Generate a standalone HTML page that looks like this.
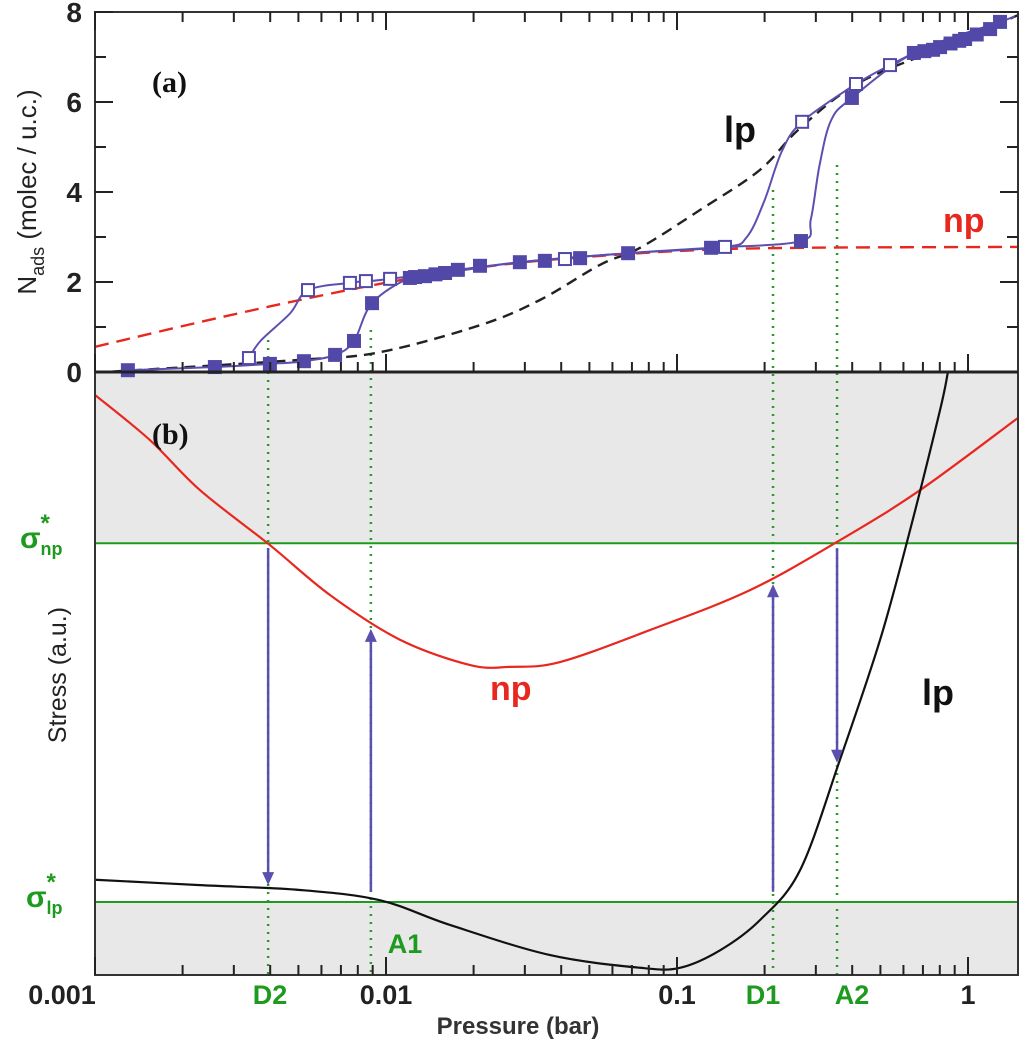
<!DOCTYPE html>
<html><head><meta charset="utf-8"><style>
html,body{margin:0;padding:0;background:#fff;}
svg{display:block;font-family:"Liberation Sans",sans-serif;}
</style></head><body>
<svg id="chart" width="1024" height="1040" viewBox="0 0 1024 1040" xmlns="http://www.w3.org/2000/svg"></svg>
<script>
// ---- data ----
const adsLogP = [-2.887,-2.588,-2.399,-2.282,-2.175,-2.110,-2.048,-1.918,-1.900,-1.866,-1.830,-1.797,-1.753,-1.677,-1.540,-1.454,-1.333,-1.168,-0.883,-0.574,-0.399,-0.186,-0.150,-0.120,-0.096,-0.060,-0.030,-0.010,0.030,0.076,0.110];
const adsN    = [0.04,0.11,0.18,0.24,0.38,0.69,1.53,2.09,2.11,2.13,2.17,2.20,2.27,2.36,2.44,2.47,2.53,2.64,2.76,2.91,6.09,7.09,7.13,7.16,7.22,7.30,7.36,7.40,7.50,7.62,7.78];
const desLogP = [-2.471,-2.268,-2.124,-2.069,-1.986,-1.385,-0.835,-0.570,-0.385,-0.268];
const desN    = [0.31,1.82,1.98,2.02,2.07,2.51,2.78,5.56,6.40,6.82];
// line-only path through the hysteresis branches
const adsLineLogP = [-2.887,-2.588,-2.399,-2.282,-2.175,-2.110,-2.048,-1.918,-1.797,-1.540,-1.168,-0.883,-0.574,-0.540,-0.510,-0.470,-0.399,-0.186,0.110,0.160];
const adsLineN    = [0.04,0.11,0.18,0.24,0.38,0.69,1.53,2.09,2.20,2.44,2.64,2.76,2.91,3.40,4.60,5.60,6.09,7.09,7.78,7.90];
const desLineLogP = [-0.186,-0.268,-0.385,-0.570,-0.640,-0.700,-0.760,-0.835,-1.168,-1.540,-1.986,-2.069,-2.124,-2.268,-2.330,-2.430,-2.471];
const desLineN    = [7.09,6.82,6.40,5.56,4.90,3.80,3.00,2.78,2.64,2.44,2.07,2.02,1.98,1.82,1.30,0.70,0.31];
const lpIsoLogP = [-3,-2.914,-2.296,-2.021,-1.677,-1.471,-1.265,-1.127,-0.921,-0.715,-0.577,-0.371,-0.062,0.172];
const lpIsoN    = [0,0.02,0.27,0.44,1.04,1.60,2.38,2.76,3.60,4.49,5.42,6.44,7.27,7.93];
const npIsoLogP = [-3,-2.639,-2.296,-1.952,-1.608,-1.265,-0.921,-0.577,0.172];
const npIsoN    = [0.56,1.11,1.60,2.04,2.38,2.58,2.71,2.76,2.78];
const npStressLogP = [-3,-2.811,-2.639,-2.399,-2.192,-1.952,-1.711,-1.574,-1.402,-1.093,-0.750,-0.440,-0.165,0.172];
const npStress     = [96.2,88.7,80.4,71.3,63.0,55.6,51.4,51.1,51.9,57.2,63.8,72.1,80.4,92.4];
const lpStressLogP = [-3,-2.639,-2.296,-2.021,-1.780,-1.436,-1.127,-0.990,-0.852,-0.715,-0.577,-0.440,-0.302,-0.199,-0.096,-0.069];
const lpStress     = [15.8,14.9,14.1,12.4,8.3,3.3,1.2,1.2,4.1,9.1,17.4,35.7,55.6,73.8,93.7,100];
const sigmaNp = 71.6, sigmaLp = 12.1;
const transLogP = [-2.405, -2.052, -0.670, -0.450]; // D2, A1, D1, A2
const transNames = ["D2","A1","D1","A2"];
const arrowFrom = [70.8, 13.8, 13.8, 70.8];
const arrowTo   = [14.9, 57.4, 64.8, 35.2];
const xTickLabels = ["0.001","0.01","0.1","1"];
const yTickLabels = ["0","2","4","6","8"];

// ---- axes ----
const X0=95, DEC=291, TOPY0=372, TOPK=45, BOT0=975, BOTK=6.03, RIGHT=1018, TOP=12;
const xs = lp => X0 + (lp+3)*DEC;
const yTop = n => TOPY0 - n*TOPK;
const yBot = s => BOT0 - s*BOTK;

const svg=document.getElementById('chart');
const NS='http://www.w3.org/2000/svg';
function mk(tag,attrs,parent){const e=document.createElementNS(NS,tag);for(const k in attrs)e.setAttribute(k,attrs[k]);(parent||svg).appendChild(e);return e;}
function smooth(pts){ // catmull-rom
  let d=`M${pts[0][0]},${pts[0][1]}`;
  for(let i=0;i<pts.length-1;i++){const p0=pts[Math.max(0,i-1)],p1=pts[i],p2=pts[i+1],p3=pts[Math.min(pts.length-1,i+2)];
    d+=` C${p1[0]+(p2[0]-p0[0])/6},${p1[1]+(p2[1]-p0[1])/6} ${p2[0]-(p3[0]-p1[0])/6},${p2[1]-(p3[1]-p1[1])/6} ${p2[0]},${p2[1]}`;}
  return d;}

// clip
const defs=mk('defs',{});
const cp=mk('clipPath',{id:'cb'},defs); mk('rect',{x:X0,y:TOPY0,width:RIGHT-X0,height:BOT0-TOPY0},cp);
const ct=mk('clipPath',{id:'ct'},defs); mk('rect',{x:X0,y:TOP,width:RIGHT-X0,height:TOPY0-TOP},ct);

// bottom gray bands
let e;
e=mk('rect',{x:X0,y:TOPY0,width:RIGHT-X0,height:yBot(sigmaNp)-TOPY0,fill:'#e8e8e8'});


e=mk('rect',{x:X0,y:yBot(sigmaLp),width:RIGHT-X0,height:BOT0-yBot(sigmaLp),fill:'#e8e8e8'});



// transition dotted lines
const dotTop=[340,330,190,165];
transLogP.forEach((lp,i)=>{const l=mk('line',{x1:xs(lp),x2:xs(lp),y1:dotTop[i],y2:BOT0,stroke:'#2a9a2a','stroke-width':2.5,'stroke-dasharray':'2 6'});

});

// sigma lines
e=mk('line',{x1:X0,x2:RIGHT,y1:yBot(sigmaNp),y2:yBot(sigmaNp),stroke:'#1e9a1e','stroke-width':2});


e=mk('line',{x1:X0,x2:RIGHT,y1:yBot(sigmaLp),y2:yBot(sigmaLp),stroke:'#1e9a1e','stroke-width':2});



// stress curves
e=mk('path',{d:smooth(npStressLogP.map((p,i)=>[xs(p),yBot(npStress[i])])),fill:'none',stroke:'#e8281e','stroke-width':2.2,'clip-path':'url(#cb)'});


e=mk('path',{d:smooth(lpStressLogP.map((p,i)=>[xs(p),yBot(lpStress[i])])),fill:'none',stroke:'#111','stroke-width':2.2,'clip-path':'url(#cb)'});



// arrows
transLogP.forEach((lp,i)=>{const x=xs(lp),y1=yBot(arrowFrom[i]),y2=yBot(arrowTo[i]);const dir=y2>y1?1:-1;
 const g=mk('g',{});
 
 
 mk('line',{x1:x,x2:x,y1:y1,y2:y2-dir*10,stroke:'#5b4fb0','stroke-width':2.5},g);
 mk('polygon',{points:`${x-6},${y2-dir*13} ${x+6},${y2-dir*13} ${x},${y2}`,fill:'#5b4fb0'},g);});

// top isotherms
e=mk('path',{d:smooth(lpIsoLogP.map((p,i)=>[xs(p),yTop(lpIsoN[i])])),fill:'none',stroke:'#222','stroke-width':2.4,'stroke-dasharray':'11 7','clip-path':'url(#ct)'});


e=mk('path',{d:smooth(npIsoLogP.map((p,i)=>[xs(p),yTop(npIsoN[i])])),fill:'none',stroke:'#e8281e','stroke-width':2.4,'stroke-dasharray':'14 8','clip-path':'url(#ct)'});


e=mk('path',{d:smooth(adsLineLogP.map((p,i)=>[xs(p),yTop(adsLineN[i])])),fill:'none',stroke:'#5b4fb0','stroke-width':2,'clip-path':'url(#ct)'});


e=mk('path',{d:smooth(desLineLogP.map((p,i)=>[xs(p),yTop(desLineN[i])])),fill:'none',stroke:'#5b4fb0','stroke-width':2,'clip-path':'url(#ct)'});


adsLogP.forEach((p,i)=>{const r=mk('rect',{x:xs(p)-7,y:yTop(adsN[i])-7,width:14,height:14,fill:'#5248a8'});

});
desLogP.forEach((p,i)=>{const r=mk('rect',{x:xs(p)-6,y:yTop(desN[i])-6,width:12,height:12,fill:'#fff',stroke:'#5248a8','stroke-width':2});

});

// frames
e=mk('rect',{x:X0,y:TOP,width:RIGHT-X0,height:BOT0-TOP,fill:'none',stroke:'#333','stroke-width':2});


e=mk('line',{x1:X0,x2:RIGHT,y1:TOPY0,y2:TOPY0,stroke:'#222','stroke-width':3});



// x ticks
for(let d=-3;d<=0;d++){for(let m=1;m<=9;m++){const lp=d+Math.log10(m);const x=xs(lp);if(x>RIGHT)continue;const L=m===1?18:10;
 [[BOT0,-L],[TOPY0,-L],[TOP,L]].forEach(([y,dl])=>{mk('line',{x1:x,x2:x,y1:y,y2:y+dl,stroke:'#222','stroke-width':2});});}}
// y ticks top panel
for(let n=0;n<=8;n++){const y=yTop(n);const L=n%2===0?18:11;
 mk('line',{x1:X0,x2:X0+L,y1:y,y2:y,stroke:'#222','stroke-width':2});
 mk('line',{x1:RIGHT,x2:RIGHT-L,y1:y,y2:y,stroke:'#222','stroke-width':2});}

function txt(s,attrs,name){const t=mk('text',attrs);t.textContent=s;return t;}
yTickLabels.forEach((s,i)=>txt(s,{x:82,y:yTop(+s)+10,'text-anchor':'end','font-size':28,'font-weight':'bold',fill:'#222'},'y-tick-label'));
const xLabPos=[62,386,677,968];
xTickLabels.forEach((s,i)=>txt(s,{x:xLabPos[i],y:1004,'text-anchor':'middle','font-size':27,'font-weight':'bold',fill:'#222'},'x-tick-label'));
const tLabX=[270,null,763,852];
transNames.forEach((n,i)=>{if(i===1)return;txt(n,{x:tLabX[i],y:1004,'text-anchor':'middle','font-size':27,'font-weight':'bold',fill:'#1e9a1e'},'transition-label-'+n.toLowerCase());});
txt('A1',{x:405,y:953,'text-anchor':'middle','font-size':27,'font-weight':'bold',fill:'#1e9a1e'},'transition-label-a1');
txt('Pressure (bar)',{x:518,y:1034,'text-anchor':'middle','font-size':24,'font-weight':'bold',fill:'#333'},'x-axis-title');
const yt=txt('',{transform:'translate(36,192) rotate(-90)','text-anchor':'middle','font-size':26,fill:'#222'},'top-y-axis-title');
yt.innerHTML='N<tspan font-size="18" dy="8">ads</tspan><tspan dy="-8"> (molec / u.c.)</tspan>';
txt('Stress (a.u.)',{transform:'translate(66,675) rotate(-90)','text-anchor':'middle','font-size':25,fill:'#222'},'bottom-y-axis-title');
const s1=txt('',{x:20,y:548,'font-size':30,'font-weight':'bold',fill:'#1e9a1e'},'sigma-np-label');
s1.innerHTML='σ<tspan font-size="18" dy="7">np</tspan><tspan font-size="24" dx="-22" dy="-24">*</tspan>';
const s2=txt('',{x:26,y:907,'font-size':30,'font-weight':'bold',fill:'#1e9a1e'},'sigma-lp-label');
s2.innerHTML='σ<tspan font-size="18" dy="7">lp</tspan><tspan font-size="24" dx="-16" dy="-24">*</tspan>';
txt('(a)',{x:152,y:92,'font-size':30,'font-weight':'bold','font-family':'Liberation Serif, serif',fill:'#111'},'panel-label-a');
txt('(b)',{x:152,y:444,'font-size':30,'font-weight':'bold','font-family':'Liberation Serif, serif',fill:'#111'},'panel-label-b');
txt('lp',{x:724,y:142,'font-size':36,'font-weight':'bold',fill:'#111'},'lp-isotherm-label');
txt('np',{x:943,y:232,'font-size':34,'font-weight':'bold',fill:'#e8281e'},'np-isotherm-label');
txt('np',{x:490,y:700,'font-size':34,'font-weight':'bold',fill:'#e8281e'},'np-stress-label');
txt('lp',{x:922,y:705,'font-size':36,'font-weight':'bold',fill:'#111'},'lp-stress-label');
</script>
</body></html>
